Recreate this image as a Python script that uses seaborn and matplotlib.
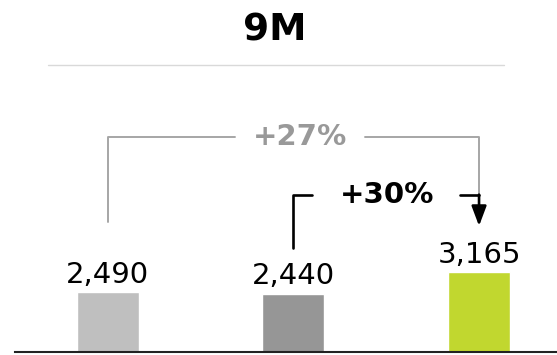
import matplotlib
matplotlib.use("Agg")
import matplotlib.pyplot as plt
import seaborn as sns
import pandas as pd
from matplotlib.transforms import blended_transform_factory
from matplotlib.lines import Line2D

# ---- data ----
categories = ["Period A", "Period B", "Period C"]
values = [2490, 2440, 3165]
value_labels = ["2,490", "2,440", "3,165"]
title = "9M"
growth_total = "+27%"
growth_step = "+30%"

# ---- style ----
bar_colors = ["#BFBFBF", "#969696", "#C1D72F"]
gray_line = "#A6A6A6"
gray_text = "#999999"

sns.set_theme(style="white")
plt.rcParams['font.family'] = ['DejaVu Sans']

fig = plt.figure(figsize=(5.57, 3.55), dpi=100)
ax = fig.add_axes([15 / 557, 3 / 355, 542 / 557, 352 / 355])

df = pd.DataFrame({"cat": categories, "val": values})
sns.barplot(data=df, x="cat", y="val", hue="cat", palette=bar_colors,
            width=0.334, legend=False, ax=ax, saturation=1)

ax.set_xlim(-0.5, 2.42)
ax.set_ylim(474, 12366)
for s in ["top", "left", "right"]:
    ax.spines[s].set_visible(False)
ax.spines["bottom"].set_color("#222222")
ax.spines["bottom"].set_linewidth(1.5)
ax.set_xticks([])
ax.set_yticks([])
ax.set_xlabel("")
ax.set_ylabel("")

for i, (v, lab) in enumerate(zip(values, value_labels)):
    ax.annotate(lab, (i, v), xytext=(0, 7), textcoords="offset points",
                ha="center", va="baseline", fontsize=21, color="black")

trans = blended_transform_factory(ax.transData, ax.transAxes)

# +27% bracket (gray), bar 0 -> bar 2
ax.plot([0, 0, 0.685], [0.370, 0.611, 0.611], transform=trans,
        color=gray_line, lw=1.4, clip_on=False)
ax.plot([1.385, 2, 2], [0.611, 0.611, 0.447], transform=trans,
        color=gray_line, lw=1.4, clip_on=False)
ax.text(1.035, 0.611, growth_total, transform=trans, ha="center", va="center",
        fontsize=21, fontweight="bold", color=gray_text)

# +30% bracket (black), bar 1 -> bar 2
ax.plot([1, 1, 1.098], [0.295, 0.447, 0.447], transform=trans,
        color="black", lw=1.9, clip_on=False)
ax.plot([1.898, 2], [0.447, 0.447], transform=trans,
        color="black", lw=1.9, clip_on=False)
ax.annotate("", xy=(2, 0.358), xycoords=trans, xytext=(2, 0.447), textcoords=trans,
            arrowprops=dict(arrowstyle="-|>,head_length=1.2,head_width=0.45",
                            color="black", lw=1.9, shrinkA=0, shrinkB=0,
                            mutation_scale=10))
ax.text(1.504, 0.447, growth_step, transform=trans, ha="center", va="center",
        fontsize=21, fontweight="bold", color="black")

fig.text(0.494, 0.914, title, ha="center", va="center",
         fontsize=27, fontweight="bold", color="black")
fig.add_artist(Line2D([0.086, 0.905], [0.817, 0.817], color="#D9D9D9", lw=1))

fig.savefig("out.png", dpi=100)
